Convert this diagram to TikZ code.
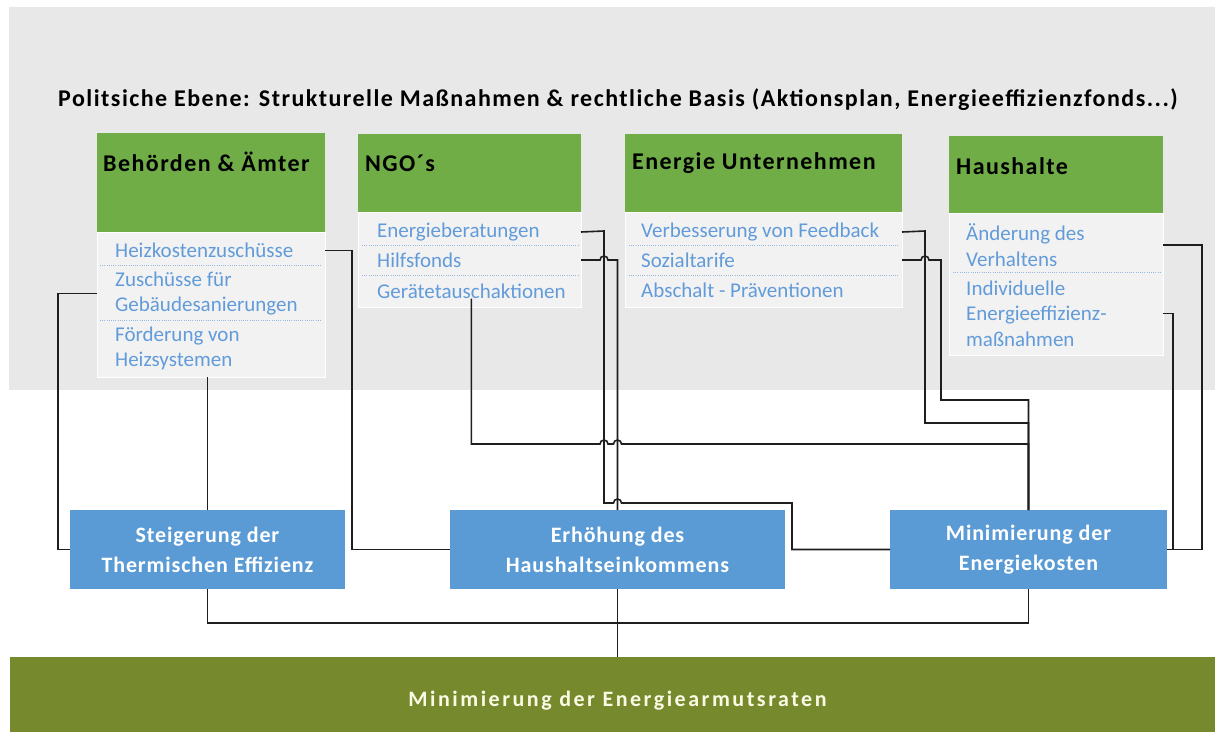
\documentclass[tikz,border=0pt]{standalone}
\usepackage{fontspec}
\setmainfont{Carlito}
\definecolor{bggray}{RGB}{232,232,232}
\definecolor{hgreen}{RGB}{112,173,71}
\definecolor{bodygray}{RGB}{242,242,242}
\definecolor{itemblue}{RGB}{98,155,218}
\definecolor{sepblue}{RGB}{150,185,225}
\definecolor{boxblue}{RGB}{91,155,213}
\definecolor{olive}{RGB}{118,137,45}
\definecolor{goaltext}{RGB}{250,250,228}
\definecolor{connc}{RGB}{30,30,30}
\begin{document}
\begin{tikzpicture}[x=1pt,y=-1pt,
  hdr/.style={rectangle, fill=hgreen, inner sep=0pt, outer sep=0pt},
  bodybox/.style={rectangle, fill=bodygray, draw=white, line width=1pt, inner sep=0pt, outer sep=0pt},
  htext/.style={anchor=west, inner sep=0pt, font=\fontsize{24}{28}\selectfont\bfseries\addfontfeatures{LetterSpace=6}},
  item/.style={anchor=west, inner sep=0pt, align=left, text=itemblue, font=\fontsize{21}{25.5}\selectfont},
  dotsep/.style={draw=sepblue, line width=0.9pt, dash pattern=on 1pt off 1.2pt},
  goalbox/.style={rectangle, fill=boxblue, inner sep=0pt, outer sep=0pt, align=center, text=white,
    font=\fontsize{22}{30}\selectfont\bfseries\addfontfeatures{LetterSpace=4}},
  finalbox/.style={rectangle, fill=olive, inner sep=0pt, outer sep=0pt, text=goaltext,
    font=\fontsize{22}{26}\selectfont\bfseries\addfontfeatures{LetterSpace=11.5}},
  conn/.style={draw=connc, line width=1.6pt}
]
\useasboundingbox (0,0) rectangle (1215,731);
\fill[white] (0,0) rectangle (1215,731);
\fill[bggray] (9,7) rectangle (1215,390);

% title
\node[inner sep=0pt, font=\fontsize{24}{28}\selectfont\bfseries\addfontfeatures{LetterSpace=6.1}] (title) at (618,100)
  {Politsiche Ebene: Strukturelle Maßnahmen \& rechtliche Basis (Aktionsplan, Energieeffizienzfonds...)};

% box 1
\node[hdr, minimum width=228, minimum height=99] (h1) at (211,182.5) {};
\node[bodybox, minimum width=228, minimum height=145] (body1) at (211,304.5) {};
\node[htext] (t1) at (103,162) {Behörden \& Ämter};
\node[item] (heiz) at (115,250.5) {Heizkostenzuschüsse};
\node[item] (zus) at (115,293.5) {Zuschüsse für\\Gebäudesanierungen};
\node[item] (foerd) at (115,348.5) {Förderung von\\Heizsystemen};
\draw[dotsep] (100,265) -- (321,265);
\draw[dotsep] (100,320) -- (321,320);

% box 2
\node[hdr, minimum width=223, minimum height=78] (h2) at (469.5,173) {};
\node[bodybox, minimum width=223, minimum height=95] (body2) at (469.5,259.5) {};
\node[htext] (t2) at (365,163) {NGO´s};
\node[item] (eb) at (377,232) {Energieberatungen};
\node[item] (hf) at (377,260) {Hilfsfonds};
\node[item] (gt) at (377,291) {Gerätetauschaktionen};
\draw[dotsep] (362,245) -- (578,245);
\draw[dotsep] (362,275) -- (578,275);

% box 3
\node[hdr, minimum width=277, minimum height=78] (h3) at (763.5,173) {};
\node[bodybox, minimum width=277, minimum height=95] (body3) at (763.5,259.5) {};
\node[htext] (t3) at (632,163) {Energie Unternehmen};
\node[item] (vf) at (641,232) {Verbesserung von Feedback};
\node[item] (soz) at (641,260) {Sozialtarife};
\node[item] (ab) at (641,290.5) {Abschalt - Präventionen};
\draw[dotsep] (629,245) -- (898,245);
\draw[dotsep] (629,275) -- (898,275);

% box 4
\node[hdr, minimum width=214, minimum height=77] (h4) at (1056,174.5) {};
\node[bodybox, minimum width=214, minimum height=142] (body4) at (1056,284) {};
\node[htext] (t4) at (956,166) {Haushalte};
\node[item] (aend) at (966,245) {Änderung des\\Verhaltens};
\node[item] (ind) at (966,313.5) {Individuelle\\Energieeffizienz-\\maßnahmen};
\draw[dotsep] (953,272) -- (1160,272);

% goal boxes
\node[goalbox, minimum width=275, minimum height=79] (st) at (207.5,549.5) {Steigerung der\\Thermischen Effizienz};
\node[goalbox, minimum width=335, minimum height=79] (erh) at (617.5,549.5) {Erhöhung des\\Haushaltseinkommens};
\node[goalbox, minimum width=277, minimum height=79] (mk) at (1028.5,549.5) {Minimierung der\\Energiekosten};
\node[finalbox, minimum width=1215, minimum height=88] (goal) at (617.5,701) {Minimierung der Energiearmutsraten};

% connectors
\draw[conn] (body1.east |- heiz.center) -- ++(27,0) |- (erh.west);
\draw[conn] (body1.west |- zus.center) -- ++(-39,0) |- (st.west);
\draw[conn] (st.north |- body1.south) -- (st.north);

\draw[conn] (body2.east |- eb.center) -- (604,231) -- (604,503) -- (613.5,503)
  arc[start angle=180, end angle=360, radius=4] -- (792,503) |- (mk.west);
\draw[conn] (body2.east |- hf.center) -- (600,260)
  arc[start angle=180, end angle=360, radius=4] -- (erh.north |- hf.center) -- (erh.north);
\draw[conn] (gt.south) -- (gt.south |- 0,444) -- (600,444)
  arc[start angle=180, end angle=360, radius=4] -- (613.5,444)
  arc[start angle=180, end angle=360, radius=4] -- (mk.north |- 0,444) -- (mk.north);

\draw[conn] (body3.east |- vf.center) -- (925,231) -- (925,423) -| (mk.north);
\draw[conn] (body3.east |- soz.center) -- (921,260)
  arc[start angle=180, end angle=360, radius=4] -- (941,260) -- (941,400) -| (mk.north);

\draw[conn] (body4.east |- aend.center) -- ++(39,0) |- (mk.east);
\draw[conn] (body4.east |- ind.center) -- ++(10,0) |- (mk.east);

\draw[conn] (st.south) -- ++(0,34) -| (erh.south);
\draw[conn] (mk.south) -- ++(0,34) -| (erh.south);
\draw[conn] (erh.south) -- (erh.south |- goal.north);
\end{tikzpicture}
\end{document}
